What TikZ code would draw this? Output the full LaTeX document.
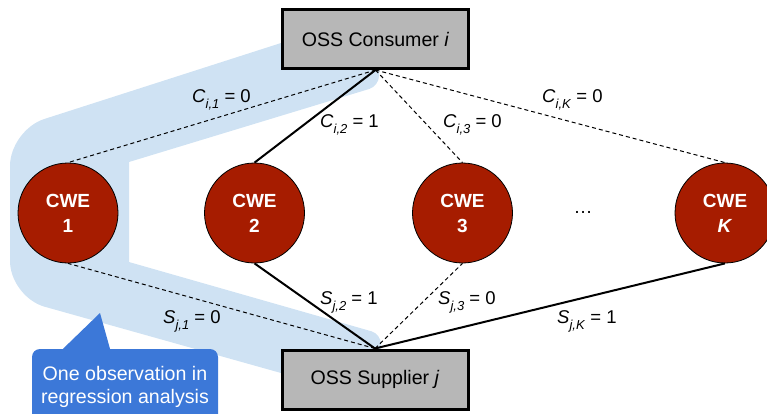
\documentclass[tikz,border=0pt]{standalone}
\usepackage{fontspec}
\setmainfont{Liberation Sans}
\usetikzlibrary{shapes}
\definecolor{bandblue}{HTML}{CFE2F3}
\definecolor{cwered}{HTML}{A61C00}
\definecolor{boxgray}{HTML}{B7B7B7}
\definecolor{noteblue}{HTML}{3C78D8}
\tikzstyle{oss}=[rectangle,draw=black,fill=boxgray,line width=3pt,minimum width=186pt,minimum height=59pt,inner sep=0pt,font=\fontsize{19.6}{23}\selectfont]
\tikzstyle{cwe}=[circle,draw=black,fill=cwered,line width=.8pt,minimum size=100pt,inner sep=0pt,text=white,align=center,font=\fontsize{19}{25}\selectfont\bfseries]
\tikzstyle{lbl}=[anchor=base west,inner sep=0pt,font=\fontsize{18.5}{22}\selectfont]
\tikzstyle{linked}=[line width=2pt]
\tikzstyle{unlinked}=[line width=1pt,dash pattern=on 4pt off 3pt]
\tikzstyle{note}=[rectangle,fill=noteblue,rounded corners=8pt,minimum width=186pt,minimum height=75pt,inner sep=0pt,text=white,align=center,font=\fontsize{19.6}{23}\selectfont]
\newcommand{\ind}[3]{\textit{#1}\raisebox{-6pt}{\fontsize{13}{13}\selectfont\textit{#2}} = #3}

\begin{document}
\begin{tikzpicture}[x=1pt,y=-1pt]
\useasboundingbox (0,0) rectangle (767,413);
\clip (0,0) rectangle (767,413);
\fill[bandblue] (379,45) -- (281,43) [rounded corners=36pt] -- (10,130) -- (10,297) [sharp corners] -- (281,373) -- (381,375) [rounded corners=10pt] -- (381,334) [sharp corners] -- (129,262) -- (129,162) [rounded corners=10pt] -- (379,86) [sharp corners] -- cycle;
\node[oss] (cons) at (375.5,39) {OSS Consumer \textit{i}};
\node[oss] (supp) at (375,379.5) {OSS Supplier \textit{j}};
\node[cwe] (cwe1) at (68,213) {CWE\\1}; \node[cwe] (cwe2) at (254.5,213) {CWE\\2}; \node[cwe] (cwe3) at (462.5,213) {CWE\\3}; \node[cwe] (cweK) at (725,213) {CWE\\\textit{K}};
\node[anchor=base,inner sep=0pt,font=\fontsize{19}{23}\selectfont] (dots) at (583,213) {\ldots};
\draw[unlinked] (cons.south) -- (cwe1.north); \draw[linked] (cons.south) -- (cwe2.north); \draw[unlinked] (cons.south) -- (cwe3.north); \draw[unlinked] (cons.south) -- (cweK.north);
\draw[unlinked] (supp.north) -- (cwe1.south); \draw[linked] (supp.north) -- (cwe2.south); \draw[unlinked] (supp.north) -- (cwe3.south); \draw[linked] (supp.north) -- (cweK.south);
\node[lbl] (c1) at (192,102) {\ind{C}{i,1}{0}}; \node[lbl] (c2) at (320,127) {\ind{C}{i,2}{1}}; \node[lbl] (c3) at (443,127) {\ind{C}{i,3}{0}}; \node[lbl] (cK) at (542,102) {\ind{C}{i,K}{0}};
\node[lbl] (s1) at (163,323) {\ind{S}{j,1}{0}}; \node[lbl] (s2) at (320,304) {\ind{S}{j,2}{1}}; \node[lbl] (s3) at (438,304) {\ind{S}{j,3}{0}}; \node[lbl] (sK) at (557,323) {\ind{S}{j,K}{1}};
\node[note] (obs) at (125,386.5) {One observation in\\regression analysis};
\coordinate (tip) at (100,313);
\fill[noteblue] ([xshift=-62pt]obs.north) -- (tip) -- ([xshift=-15pt]obs.north) -- cycle;
\end{tikzpicture}
\end{document}
